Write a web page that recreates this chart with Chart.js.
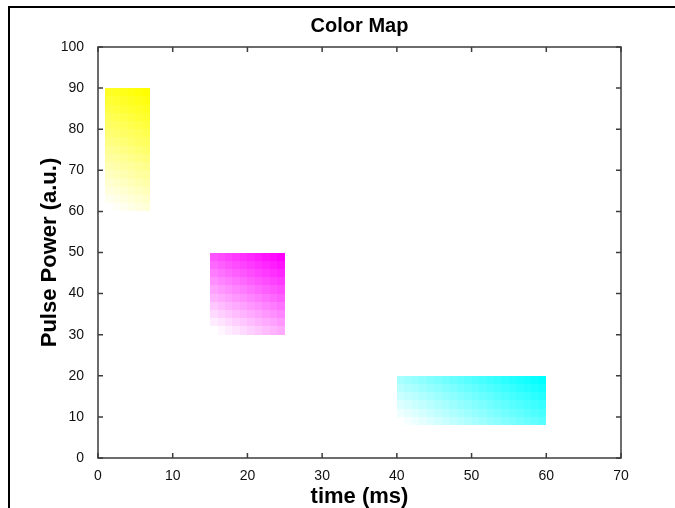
<!DOCTYPE html>
<html>
<head>
<meta charset="utf-8">
<script src="https://cdn.jsdelivr.net/npm/chart.js@4.4.0/dist/chart.umd.min.js"></script>
<style>
  body { margin: 0; background: #fff; }
  canvas { display: block; }
</style>
</head>
<body>
<canvas id="mapChart" width="675" height="508" style="width:675px;height:508px"></canvas>
<script>
// Blocks of the color map (time in ms, power in a.u.)
const blockNames = ['yellow', 'magenta', 'cyan'];
const timeStart = [1, 15, 40];
const timeEnd = [7, 25, 60];
const powerStart = [60, 30, 8];
const powerEnd = [90, 50, 20];
const blockColors = [[255, 255, 0], [255, 0, 255], [0, 255, 255]];

// Axis ticks
const timeTicks = [0, 10, 20, 30, 40, 50, 60, 70];
const powerTicks = [0, 10, 20, 30, 40, 50, 60, 70, 80, 90, 100];

// Cell size of the color grid
const cellW = 1;
const cellH = 2;

const tickFont = { family: 'Liberation Sans', size: 14 };
const labelFont = { family: 'Liberation Sans', size: 22, weight: 'bold' };

// Draws the shaded cells of each block through the chart scales
const cellsPlugin = {
    id: 'cells',
    beforeDatasetsDraw(chart) {
        const ctx = chart.ctx;
        const xs = chart.scales.x;
        const ys = chart.scales.y;
        ctx.save();
        blockNames.forEach((name, b) => {
            const x0 = timeStart[b], x1 = timeEnd[b];
            const y0 = powerStart[b], y1 = powerEnd[b];
            const span = (x1 - cellW - x0) + (y1 - cellH - y0);
            const rgb = blockColors[b];
            for (let x = x0; x < x1; x += cellW) {
                for (let y = y0; y < y1; y += cellH) {
                    const t = ((x - x0) + (y - y0)) / span;
                    const c = rgb.map(v => Math.round(255 + (v - 255) * t));
                    ctx.fillStyle = `rgb(${c[0]}, ${c[1]}, ${c[2]})`;
                    const left = Math.round(xs.getPixelForValue(x));
                    const right = Math.round(xs.getPixelForValue(x + cellW));
                    const top = Math.round(ys.getPixelForValue(y + cellH));
                    const bottom = Math.round(ys.getPixelForValue(y));
                    ctx.fillRect(left, top, right - left, bottom - top);
                }
            }
        });
        ctx.restore();
    }
};

// Box, inner ticks and outer frame (MATLAB look)
const framePlugin = {
    id: 'frame',
    afterDatasetsDraw(chart) {
        const ctx = chart.ctx;
        const a = chart.chartArea;
        const xs = chart.scales.x;
        const ys = chart.scales.y;
        const len = 5;
        ctx.save();
        ctx.strokeStyle = '#3c3c3c';
        ctx.lineWidth = 1.5;
        ctx.strokeRect(a.left, a.top, a.right - a.left, a.bottom - a.top);
        ctx.beginPath();
        timeTicks.forEach(v => {
            const px = xs.getPixelForValue(v);
            ctx.moveTo(px, a.bottom); ctx.lineTo(px, a.bottom - len);
            ctx.moveTo(px, a.top); ctx.lineTo(px, a.top + len);
        });
        powerTicks.forEach(v => {
            const py = ys.getPixelForValue(v);
            ctx.moveTo(a.left, py); ctx.lineTo(a.left + len, py);
            ctx.moveTo(a.right, py); ctx.lineTo(a.right - len, py);
        });
        ctx.stroke();

        // outer figure frame
        ctx.strokeStyle = '#000';
        ctx.lineWidth = 2;
        ctx.beginPath();
        ctx.moveTo(9, 508); ctx.lineTo(9, 7); ctx.lineTo(675, 7);
        ctx.stroke();
        ctx.restore();
    }
};

const ctxMap = document.getElementById('mapChart').getContext('2d');
const mapChart = new Chart(ctxMap, {
    type: 'scatter',
    data: {
        datasets: [{ data: [], showLine: false }]
    },
    options: {
        responsive: false,
        animation: false,
        layout: { padding: { left: 0, right: 54, top: 0, bottom: 0 } },
        plugins: {
            legend: { display: false },
            tooltip: { enabled: false },
            title: {
                display: true,
                fullSize: false,
                text: 'Color Map',
                color: '#000',
                font: { family: 'Liberation Sans', size: 20, weight: 'bold' },
                padding: { top: 14, bottom: 9 }
            }
        },
        scales: {
            x: {
                type: 'linear',
                min: 0,
                max: 70,
                afterBuildTicks: s => { s.ticks = timeTicks.map(v => ({ value: v })); },
                afterFit: s => { s.height = 50; },
                grid: { display: false },
                border: { display: false },
                ticks: { color: '#111', font: tickFont, padding: 2, maxRotation: 0 },
                title: { display: true, text: 'time (ms)', color: '#000', font: labelFont, padding: { top: 0, bottom: -2 } }
            },
            y: {
                type: 'linear',
                min: 0,
                max: 100,
                afterBuildTicks: s => { s.ticks = powerTicks.map(v => ({ value: v })); },
                afterFit: s => { s.width = 98; },
                grid: { display: false },
                border: { display: false },
                ticks: { color: '#111', font: tickFont, padding: 6 },
                title: { display: true, text: 'Pulse Power (a.u.)', color: '#000', font: labelFont, padding: { top: 37, bottom: 0 } }
            }
        }
    },
    plugins: [cellsPlugin, framePlugin]
});
</script>
</body>
</html>
